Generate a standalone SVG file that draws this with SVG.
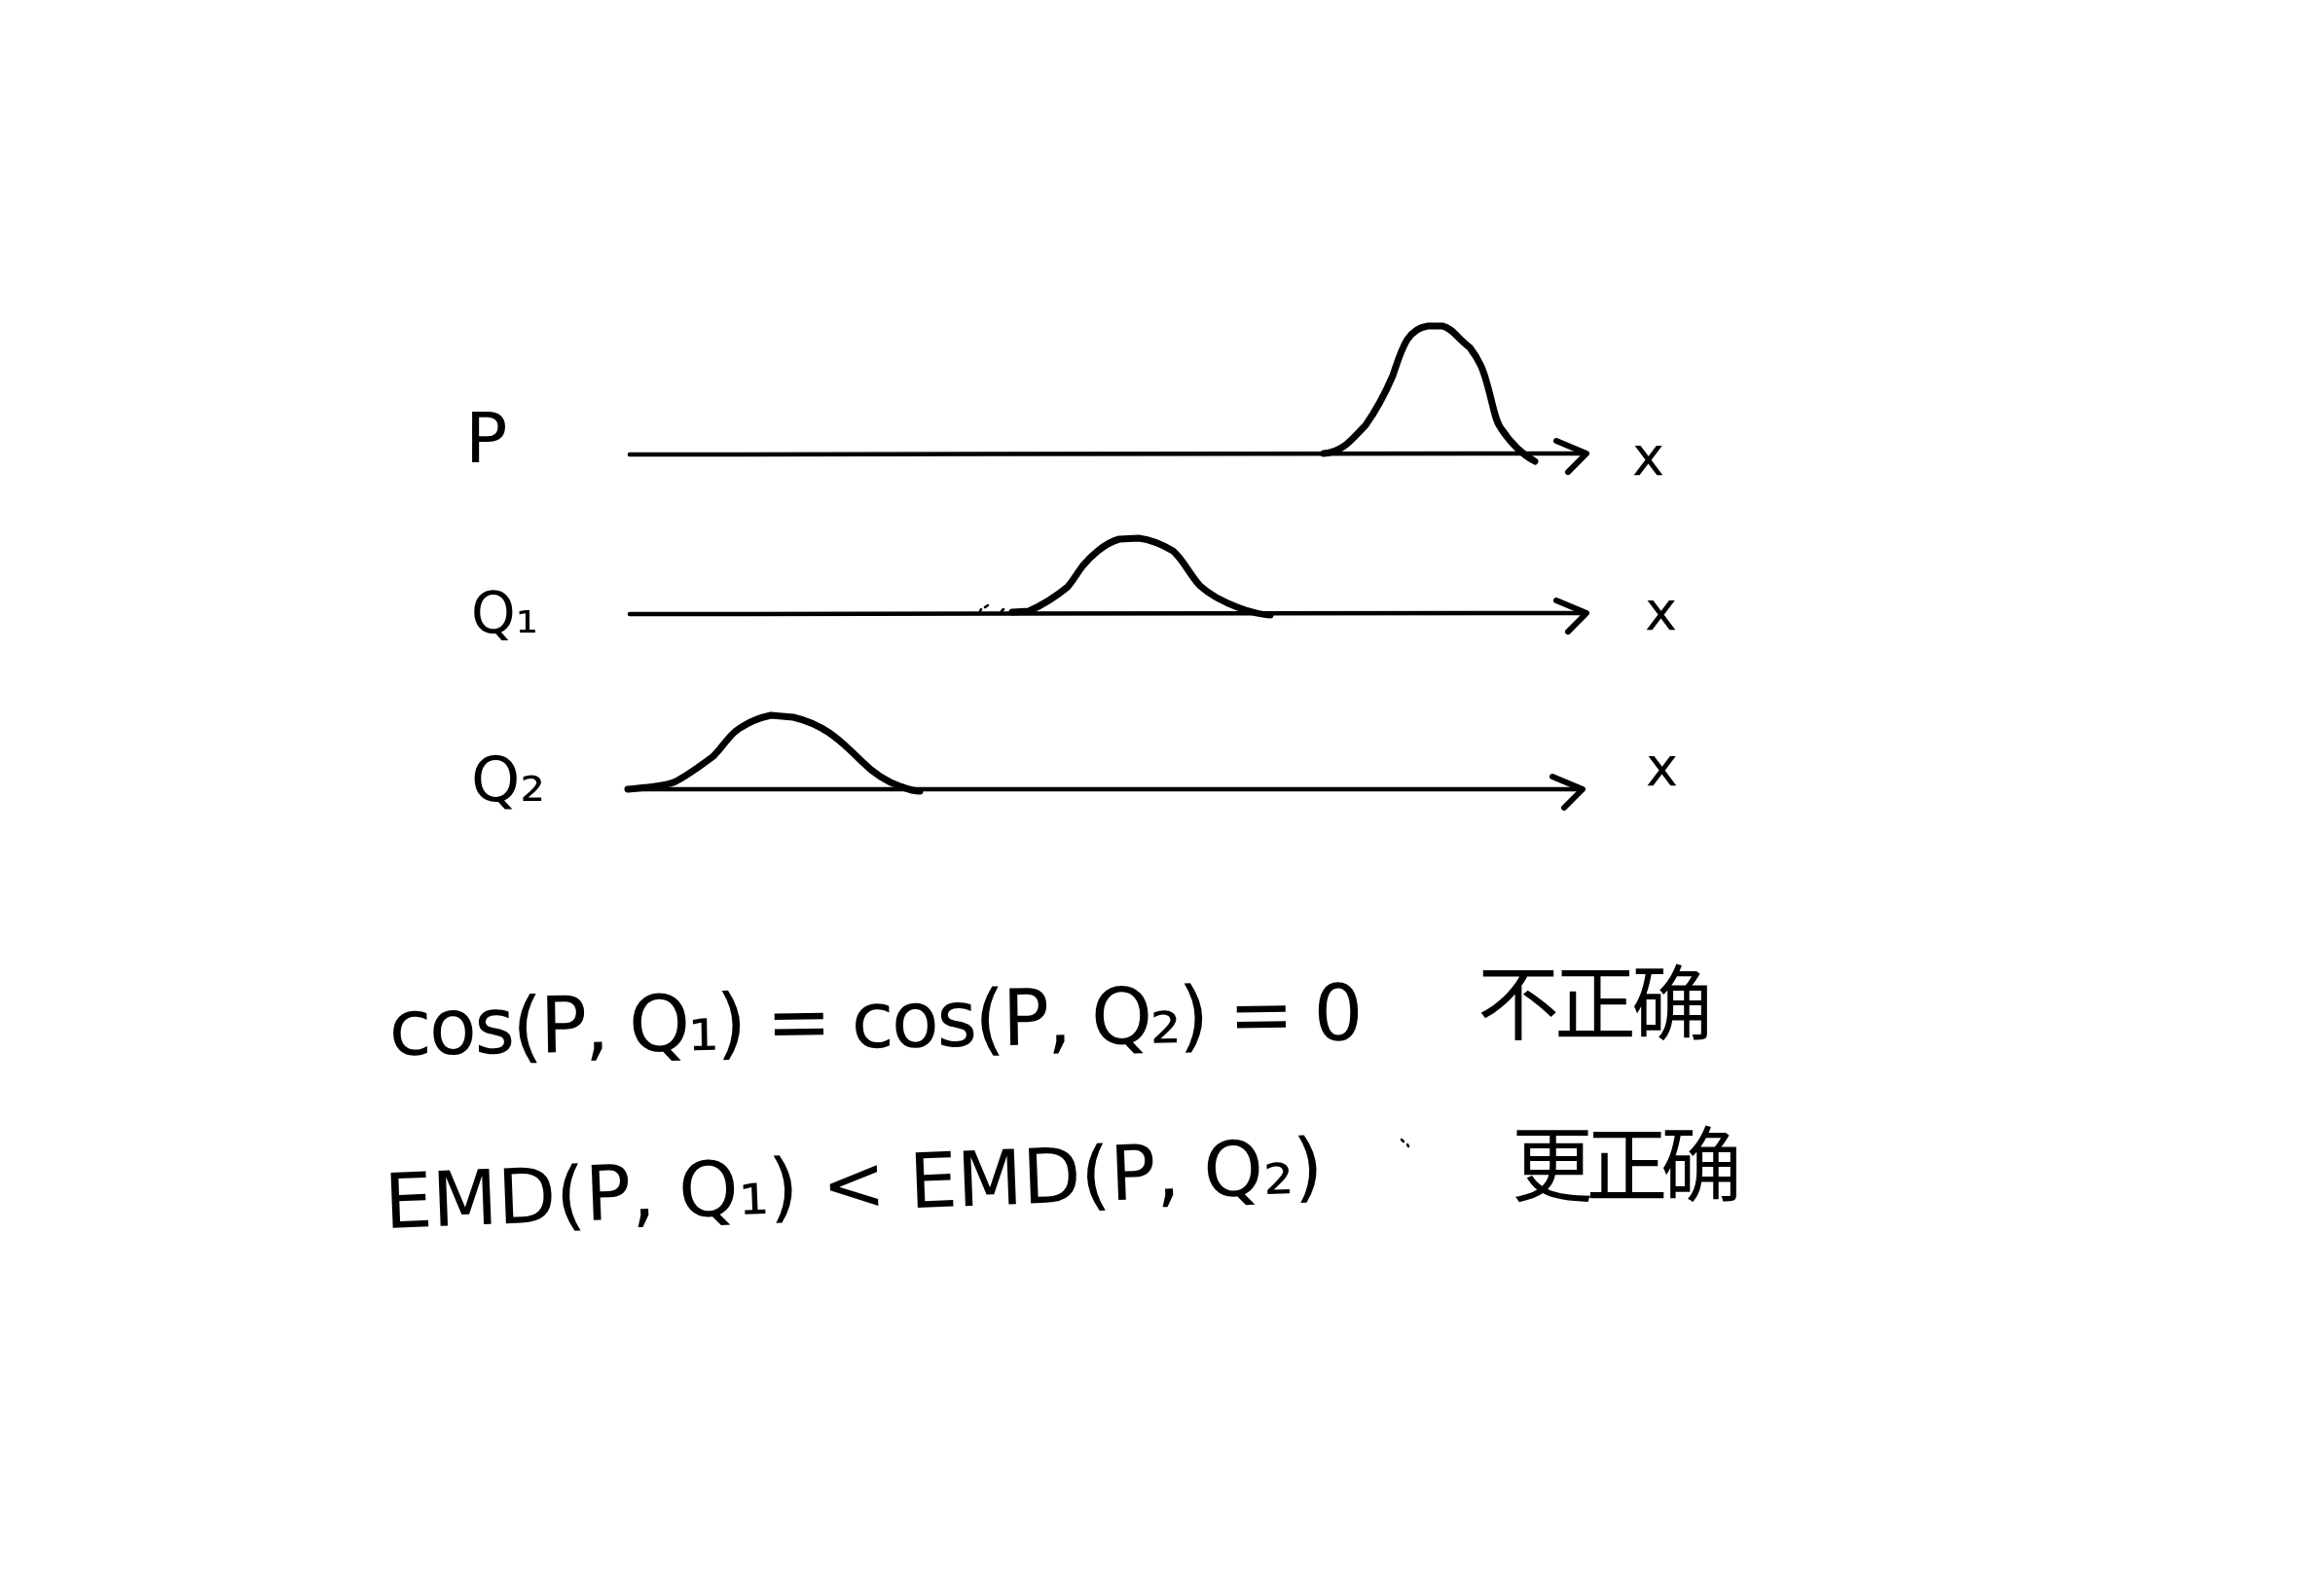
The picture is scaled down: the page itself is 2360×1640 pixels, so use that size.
<svg xmlns="http://www.w3.org/2000/svg" width="2360" height="1640" viewBox="0 0 2360 1640">
  <style>
    .axis { fill: none; stroke: #000; stroke-width: 4.5; stroke-linecap: round; }
    .curve { fill: none; stroke: #000; stroke-width: 7; stroke-linecap: round; stroke-linejoin: round; }
    .speck { fill: none; stroke: #000; stroke-width: 2.5; stroke-linecap: round; }
    .lbl { font-family: "DejaVu Sans", "Liberation Sans", sans-serif; fill: #000; }
    .cjk { font-family: "Noto Sans CJK SC", "DejaVu Sans", sans-serif; fill: #000; }
  </style>
  <defs>
    <marker id="chev" markerUnits="userSpaceOnUse" markerWidth="60" markerHeight="60" refX="0" refY="0" viewBox="-40 -30 50 60" orient="auto" overflow="visible">
      <path d="M-31,-13 L0,0 L-19,19" fill="none" stroke="#000" stroke-width="6" stroke-linecap="round" stroke-linejoin="round"/>
    </marker>
  </defs>
  <rect width="2360" height="1640" fill="#fff"/>

  <g id="connectors">
    <path id="axis-p" class="axis" d="M647,467 L1630,466" marker-end="url(#chev)"/>
    <path id="axis-q1" class="axis" d="M647,631 L1630,630" marker-end="url(#chev)"/>
    <path id="axis-q2" class="axis" d="M645,811 L1626,811" marker-end="url(#chev)"/>
  </g>

  <g id="row-p">
    <text class="lbl" x="478" y="475" font-size="72">P</text>
    <path class="curve" d="M1360,466 C1380,465 1390,450 1403,437 C1415,420 1425,400 1431,386 C1440,360 1445,338 1467,335 L1482,335 C1492,337 1498,348 1510,357 C1520,370 1524,380 1528,395 C1535,420 1536,432 1542,440 C1550,452 1560,465 1577,474"/>
    <text class="lbl" x="1677" y="488" font-size="56">x</text>
  </g>

  <g id="row-q1">
    <text class="lbl" x="484" y="650" font-size="58">Q₁</text>
    <path class="curve" d="M1040,629 L1057,628 C1068,623 1085,613 1097,603 C1103,596 1106,590 1112,582 C1120,572 1135,558 1150,554 L1170,553 C1185,555 1195,560 1205,566 C1215,574 1222,590 1233,602 C1245,613 1265,622 1280,627 C1290,630 1297,632 1305,632"/>
    <path class="speck" d="M1007,628 L1008,626 M1012,624 L1015,622 M1029,628 L1031,626"/>
    <text class="lbl" x="1690" y="647" font-size="56">x</text>
  </g>

  <g id="row-q2">
    <text class="lbl" x="484" y="823" font-size="64">Q₂</text>
    <path class="curve" d="M645,811 C665,809 680,808 692,804 C705,798 718,788 733,777 C742,768 746,760 755,752 C765,744 778,738 792,735 L815,737 C828,740 840,745 852,753 C865,762 875,772 885,782 C895,792 910,803 925,808 C933,811 938,813 945,813"/>
    <text class="lbl" x="1691" y="807" font-size="56">x</text>
  </g>

  <g id="eq-cos">
    <text class="lbl" x="400" y="1084" font-size="80" textLength="1001" lengthAdjust="spacing" transform="rotate(-0.9 400 1084)">cos(P, Q₁) = cos(P, Q₂) = 0</text>
    <text class="cjk" x="1518" y="1062" font-size="84" textLength="242" lengthAdjust="spacing">不正确</text>
  </g>

  <g id="eq-emd">
    <text class="lbl" x="396" y="1262" font-size="78" textLength="965" lengthAdjust="spacing" transform="rotate(-2.2 396 1262)">EMD(P, Q₁) &lt; EMD(P, Q₂)</text>
    <path class="speck" d="M1440,1171 L1442,1173 M1446,1176 L1447,1178"/>
    <text class="cjk" x="1553" y="1228" font-size="84" textLength="237" lengthAdjust="spacing">更正确</text>
  </g>
</svg>
